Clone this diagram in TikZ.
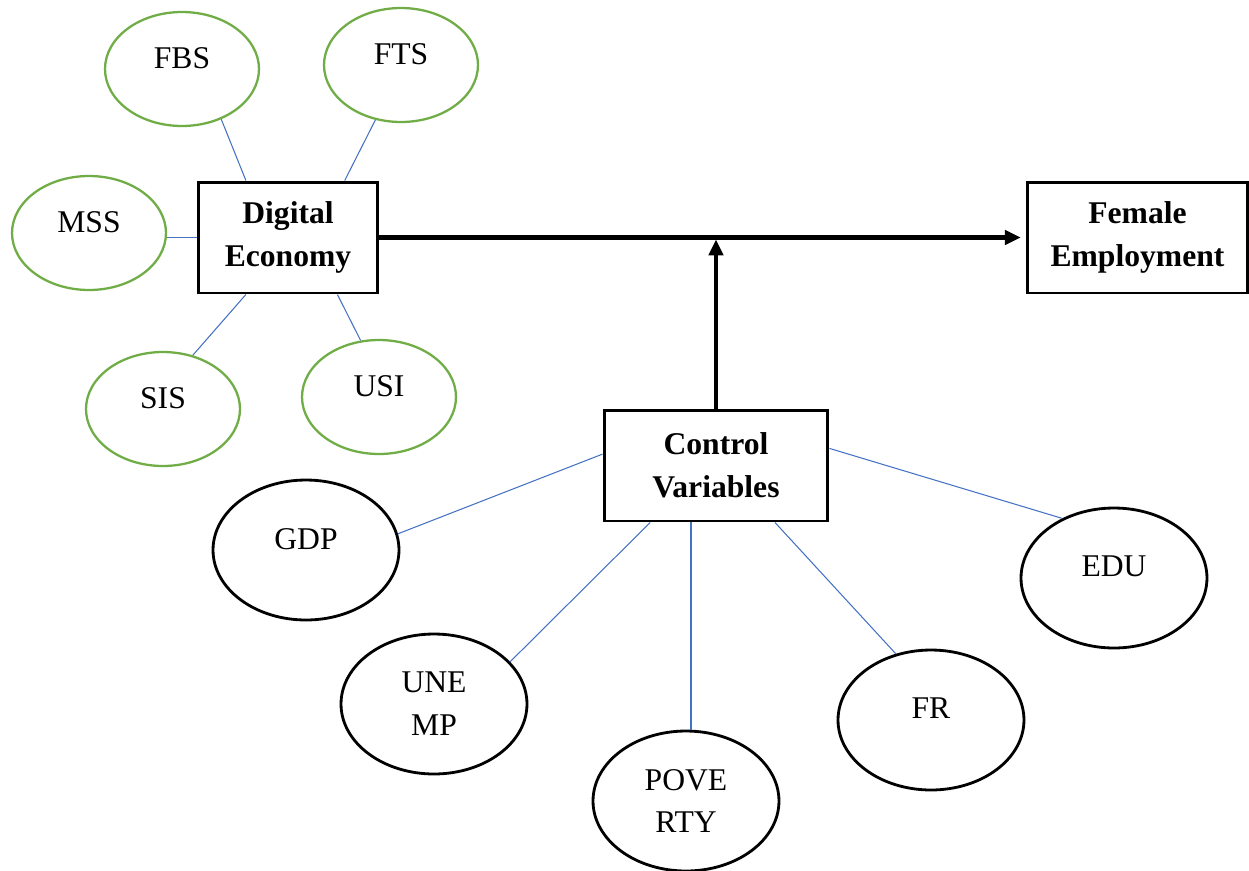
\documentclass[tikz,border=0pt]{standalone}
\usepackage{fontspec}
\setmainfont{Liberation Serif}
\usetikzlibrary{shapes.geometric,arrows.meta,calc}
\definecolor{leafgreen}{HTML}{70AD47}
\definecolor{linkblue}{HTML}{4472C4}
\tikzset{
  dimbox/.style={draw,line width=1.7pt,minimum width=3.6cm,minimum height=2.22cm,
    align=center,font=\fontsize{18}{24.4}\selectfont\bfseries},
  proxy/.style={ellipse,draw=leafgreen,line width=1.3pt,minimum width=3.08cm,
    minimum height=2.28cm,inner sep=0pt,align=center,font=\fontsize{18}{24.4}\selectfont},
  control/.style={ellipse,draw,line width=1.6pt,minimum width=3.72cm,
    minimum height=2.8cm,inner sep=0pt,align=center,font=\fontsize{18}{24.4}\selectfont},
  raised/.style={text depth=13pt},
  link/.style={draw=linkblue,line width=0.6pt},
  main/.style={line width=2.3pt,-{Triangle[length=9pt,width=8pt]}}
}
\begin{document}
\begin{tikzpicture}[x=0.02cm,y=-0.02cm]
  \useasboundingbox (0,0) rectangle (1249,870);
  \draw
    (288,237.5) node[dimbox] (de) {Digital\\Economy}
    (1137.5,237.5) node[dimbox,minimum width=4.4cm] (fe) {Female\\Employment}
    (716,465.5) node[dimbox,minimum width=4.48cm] (cv) {Control\\Variables};
  \draw
    (182,69) node[proxy,raised] (fbs) {FBS}
    (401,65) node[proxy,raised] (fts) {FTS}
    (89,233) node[proxy,raised] (mss) {MSS}
    (163,409) node[proxy,raised] (sis) {SIS}
    (379,397) node[proxy,raised] (usi) {USI};
  \draw
    (306,550) node[control,raised] (gdp) {GDP}
    (434,704) node[control] (unemp) {UNE\\MP}
    (686,801) node[control] (poverty) {POVE\\RTY}
    (931,720) node[control,raised] (fr) {FR}
    (1114,578) node[control,raised] (edu) {EDU};
  \begin{scope}[link]
    \draw (fbs.-52) to ($(de.north west)!0.27!(de.north east)$);
    \draw (fts.-115) to ($(de.north west)!0.81!(de.north east)$);
    \draw (de.west -| mss.east) to (de.west);
    \draw (sis.61) to ($(de.south west)!0.27!(de.south east)$);
    \draw (usi.108) to ($(de.south west)!0.77!(de.south east)$);
    \draw (gdp.10) to ($(cv.north west)!0.4!(cv.south west)$);
    \draw (unemp.29) to ($(cv.south west)!0.21!(cv.south east)$);
    \draw (poverty.86) to (poverty.86 |- cv.south);
    \draw (fr.118) to ($(cv.south west)!0.76!(cv.south east)$);
    \draw (edu.131) to ($(cv.north east)!0.35!(cv.south east)$);
  \end{scope}
  \coordinate (join) at (cv.north |- de.east);
  \begin{scope}[main]
    \draw[shorten >=3pt] (de.east) to (fe.west);
    \draw[shorten >=1.1pt] (cv.north) to (join);
  \end{scope}
\end{tikzpicture}
\end{document}
